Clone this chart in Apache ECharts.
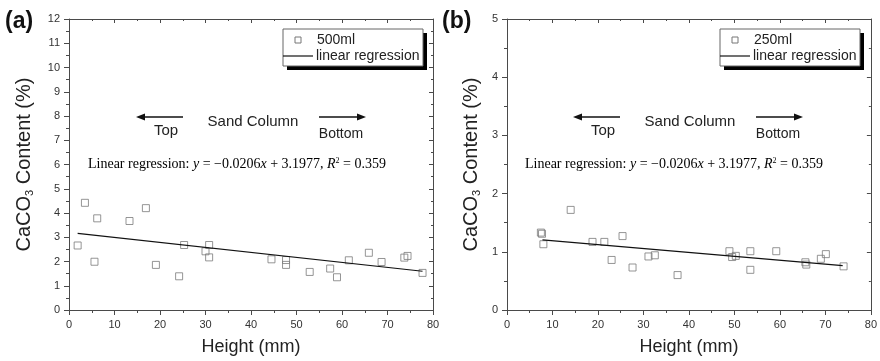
<!DOCTYPE html>
<html>
<head>
<meta charset="utf-8">
<script src="https://cdn.jsdelivr.net/npm/echarts@6/dist/echarts.min.js"></script>
<style>
  html, body { margin: 0; padding: 0; background: #fff; }
  #chart { width: 880px; height: 361px; }
</style>
</head>
<body>
<div id="chart"></div>
<script>
// Panel (a): 500 ml column — height (mm) vs CaCO3 content (%)
const heightA = [1.9, 3.5, 5.6, 6.2, 13.3, 16.9, 19.1, 24.2, 25.3, 30.0, 30.8, 30.8,
  44.5, 47.7, 47.7, 52.9, 57.4, 58.9, 61.5, 65.9, 68.7, 73.7, 74.4, 77.7];
const contentA = [2.66, 4.42, 1.99, 3.78, 3.67, 4.20, 1.86, 1.39, 2.68, 2.42, 2.68, 2.17,
  2.09, 2.06, 1.86, 1.57, 1.71, 1.35, 2.05, 2.36, 1.98, 2.16, 2.23, 1.53];

// Panel (b): 250 ml column
const heightB = [7.45, 7.7, 8.0, 14.0, 18.8, 21.4, 23.0, 25.4, 27.6, 31.1, 32.5, 37.5,
  48.9, 49.5, 50.3, 53.5, 53.5, 59.2, 65.6, 65.8, 69.0, 70.1, 74.0];
const contentB = [1.33, 1.31, 1.13, 1.72, 1.17, 1.17, 0.86, 1.27, 0.73, 0.92, 0.94, 0.60,
  1.01, 0.91, 0.93, 1.01, 0.69, 1.01, 0.82, 0.78, 0.88, 0.96, 0.75];

// Fitted regression lines: slope, intercept and the x span they are drawn over
const fitA = { slope: -0.0206, intercept: 3.1977, from: 1.9, to: 77.7 };
const fitB = { slope: -0.0067, intercept: 1.258, from: 7.8, to: 73.8 };

const legendA = ['500ml', 'linear regression'];
const legendB = ['250ml', 'linear regression'];

const SANS = '"Liberation Sans", Arial, sans-serif';
const SERIF = '"Liberation Serif", "Times New Roman", serif';
const AXIS_COLOR = '#4a4a4a';
const TEXT_COLOR = '#333';

function pairs(xs, ys) { return xs.map((x, i) => [x, ys[i]]); }
function fitLine(f) {
  return [[f.from, f.intercept + f.slope * f.from], [f.to, f.intercept + f.slope * f.to]];
}

function xAxes(gridIndex) {
  const base = {
    gridIndex, type: 'value', min: 0, max: 80, interval: 10,
    splitLine: { show: false },
    axisLine: { show: true, onZero: false, lineStyle: { color: AXIS_COLOR, width: 1 } },
    minorTick: { show: true, splitNumber: 2, length: 3, lineStyle: { color: AXIS_COLOR } },
    minorSplitLine: { show: false }
  };
  return [
    Object.assign({}, base, {
      position: 'bottom',
      axisTick: { show: true, inside: false, length: 5, lineStyle: { color: AXIS_COLOR } },
      axisLabel: { show: true, margin: 9, color: TEXT_COLOR, fontFamily: SANS, fontSize: 11 },
      name: 'Height (mm)', nameLocation: 'middle', nameGap: 28,
      nameTextStyle: { color: '#222', fontFamily: SANS, fontSize: 18 }
    }),
    Object.assign({}, base, {
      position: 'top',
      axisTick: { show: true, inside: true, length: 4, lineStyle: { color: AXIS_COLOR } },
      minorTick: { show: true, splitNumber: 2, length: 2, lineStyle: { color: AXIS_COLOR } },
      axisLabel: { show: false }
    })
  ];
}

function yAxes(gridIndex, max, gap) {
  const base = {
    gridIndex, type: 'value', min: 0, max, interval: 1,
    splitLine: { show: false },
    axisLine: { show: true, onZero: false, lineStyle: { color: AXIS_COLOR, width: 1 } },
    minorTick: { show: true, splitNumber: 2, length: 3, lineStyle: { color: AXIS_COLOR } },
    minorSplitLine: { show: false }
  };
  return [
    Object.assign({}, base, {
      position: 'left',
      axisTick: { show: true, inside: false, length: 5, lineStyle: { color: AXIS_COLOR } },
      axisLabel: { show: true, margin: 9, color: TEXT_COLOR, fontFamily: SANS, fontSize: 11 },
      name: '{t|CaCO}{s|3}{t| Content (%)}', nameLocation: 'middle', nameGap: gap,
      nameTextStyle: {
        color: '#222', fontFamily: SANS, fontSize: 20,
        rich: {
          t: { fontFamily: SANS, fontSize: 20, color: '#222' },
          s: { fontFamily: SANS, fontSize: 11, color: '#222', verticalAlign: 'bottom', padding: [10, 0, 0, 0] }
        }
      }
    }),
    Object.assign({}, base, {
      position: 'right',
      axisTick: { show: true, inside: true, length: 4, lineStyle: { color: AXIS_COLOR } },
      minorTick: { show: true, splitNumber: 2, length: 2, lineStyle: { color: AXIS_COLOR } },
      axisLabel: { show: false }
    })
  ];
}

function scatterSeries(name, xi, yi, xs, ys) {
  return {
    name, type: 'scatter', xAxisIndex: xi, yAxisIndex: yi,
    data: pairs(xs, ys), symbol: 'rect', symbolSize: 7,
    itemStyle: { color: 'rgba(255,255,255,0)', borderColor: '#7a7a7a', borderWidth: 1 },
    z: 3
  };
}
function lineSeries(name, xi, yi, f) {
  return {
    name, type: 'line', xAxisIndex: xi, yAxisIndex: yi,
    data: fitLine(f), symbol: 'none',
    lineStyle: { color: '#111', width: 1.2 }, z: 4
  };
}

// Annotations placed inside each panel (offset ox shifts panel b)
function annotations(ox, label, legend) {
  const eqRich = {
    n: { fontFamily: SERIF, fontSize: 14, color: '#333' },
    i: { fontFamily: SERIF, fontSize: 14, color: '#333', fontStyle: 'italic' },
    sup: { fontFamily: SERIF, fontSize: 8, color: '#333', verticalAlign: 'top', padding: [0, 0, 7, 0] }
  };
  const arrowStyle = { stroke: '#111', lineWidth: 1.3 };
  return [
    { type: 'text', left: ox + 5, top: 10,
      style: { text: label, font: 'bold 23px ' + SANS, fill: '#111' } },
    // legend frame with drop shadow
    { type: 'rect', shape: { x: ox + 287, y: 33, width: 140, height: 37 }, style: { fill: '#000' }, z: 10 },
    { type: 'rect', shape: { x: ox + 283, y: 29, width: 140, height: 37 },
      style: { fill: '#fff', stroke: '#666', lineWidth: 1 }, z: 11 },
    { type: 'rect', shape: { x: ox + 295, y: 37, width: 6, height: 6 },
      style: { fill: 'none', stroke: '#777', lineWidth: 1 }, z: 12 },
    { type: 'text', x: ox + 317, y: 40, z: 12,
      style: { text: legend[0], font: '14px ' + SANS, fill: '#222', textVerticalAlign: 'middle' } },
    { type: 'line', shape: { x1: ox + 283, y1: 56, x2: ox + 313, y2: 56 },
      style: { stroke: '#111', lineWidth: 1.2 }, z: 12 },
    { type: 'text', x: ox + 316, y: 56, z: 12,
      style: { text: legend[1], font: '14px ' + SANS, fill: '#222', textVerticalAlign: 'middle' } },
    // sand column direction arrows
    { type: 'line', shape: { x1: ox + 143, y1: 117, x2: ox + 183, y2: 117 }, style: arrowStyle },
    { type: 'polygon', shape: { points: [[ox + 136, 117], [ox + 145, 113.5], [ox + 145, 120.5]] }, style: { fill: '#111' } },
    { type: 'line', shape: { x1: ox + 319, y1: 117, x2: ox + 359, y2: 117 }, style: arrowStyle },
    { type: 'polygon', shape: { points: [[ox + 366, 117], [ox + 357, 113.5], [ox + 357, 120.5]] }, style: { fill: '#111' } },
    { type: 'text', x: ox + 253, y: 122,
      style: { text: 'Sand Column', font: '15px ' + SANS, fill: '#222', textAlign: 'center', textVerticalAlign: 'middle' } },
    { type: 'text', x: ox + 166, y: 131,
      style: { text: 'Top', font: '15px ' + SANS, fill: '#222', textAlign: 'center', textVerticalAlign: 'middle' } },
    { type: 'text', x: ox + 341, y: 134,
      style: { text: 'Bottom', font: '14px ' + SANS, fill: '#222', textAlign: 'center', textVerticalAlign: 'middle' } },
    { type: 'text', x: ox + 237, y: 164,
      style: {
        text: '{n|Linear regression: }{i|y}{n| = \u22120.0206}{i|x}{n| + 3.1977, }{i|R}{sup|2}{n| = 0.359}',
        rich: eqRich, textAlign: 'center', textVerticalAlign: 'middle'
      } }
  ];
}

const chart = echarts.init(document.getElementById('chart'), null, { renderer: 'canvas' });
chart.setOption({
  animation: false,
  backgroundColor: '#fff',
  grid: [
    { left: 69, right: 447, top: 19, bottom: 49 },
    { left: 507, right: 8, top: 19, bottom: 49 }
  ],
  xAxis: [...xAxes(0), ...xAxes(1)],
  yAxis: [...yAxes(0, 12, 34), ...yAxes(1, 5, 25)],
  series: [
    scatterSeries(legendA[0], 0, 0, heightA, contentA),
    lineSeries(legendA[1], 0, 0, fitA),
    scatterSeries(legendB[0], 2, 2, heightB, contentB),
    lineSeries(legendB[1], 2, 2, fitB)
  ],
  graphic: [...annotations(0, '(a)', legendA), ...annotations(437, '(b)', legendB)]
});
</script>
</body>
</html>
